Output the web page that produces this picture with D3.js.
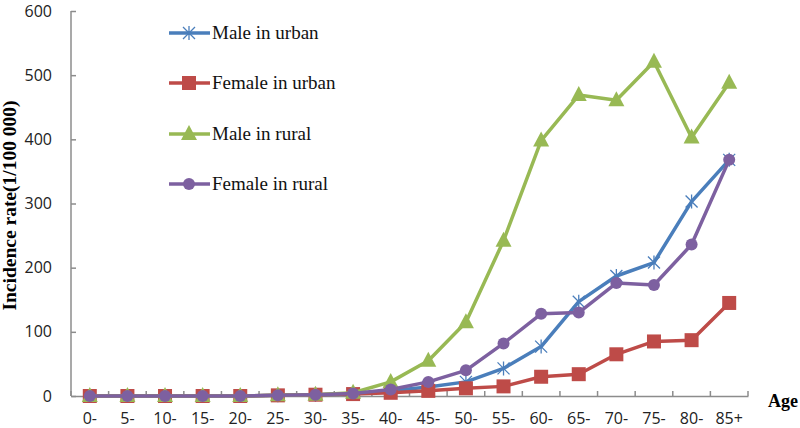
<!DOCTYPE html>
<html>
<head>
<meta charset="utf-8">
<script src="https://cdn.jsdelivr.net/npm/d3@7"></script>
<style>
  body { margin: 0; background: #fff; }
  svg { display: block; }
</style>
</head>
<body>
<div id="vis"></div>
<script>
// data
const AGES = ["0-", "5-", "10-", "15-", "20-", "25-", "30-", "35-", "40-", "45-",
              "50-", "55-", "60-", "65-", "70-", "75-", "80-", "85+"];
const MALE_URBAN   = [0, 0, 0, 0, 0, 1, 2, 3, 8, 14, 22, 43, 77, 147, 187, 208, 303, 368];
const FEMALE_URBAN = [0, 0, 0, 0, 0, 1, 2, 3, 5, 8, 12, 15, 30, 34, 65, 85, 87, 145];
const MALE_RURAL   = [0, 0, 0, 0, 0, 1, 2, 5, 22, 55, 115, 242, 398, 469, 461, 521, 403, 488];
const FEMALE_RURAL = [0, 0, 0, 0, 0, 1, 2, 4, 10, 22, 40, 82, 128, 130, 176, 173, 236, 368];
const Y_TICKS = [0, 100, 200, 300, 400, 500, 600];

const SERIES = [
  {name: "Male in urban",   values: MALE_URBAN,   color: "#4a7ebb", marker: "star"},
  {name: "Female in urban", values: FEMALE_URBAN, color: "#be4b48", marker: "square"},
  {name: "Male in rural",   values: MALE_RURAL,   color: "#98b954", marker: "triangle"},
  {name: "Female in rural", values: FEMALE_RURAL, color: "#7d60a0", marker: "circle"}
];

const FRAME_WIDTH = 800;
const FRAME_HEIGHT = 428;
const MARGINS = {left: 71, right: 52, top: 11, bottom: 32};

const FRAME = d3.select("#vis")
  .append("svg")
    .attr("width", FRAME_WIDTH)
    .attr("height", FRAME_HEIGHT);

const X_SCALE = d3.scaleBand()
  .domain(AGES)
  .range([MARGINS.left, FRAME_WIDTH - MARGINS.right]);

const Y_SCALE = d3.scaleLinear()
  .domain([0, 600])
  .range([FRAME_HEIGHT - MARGINS.bottom, MARGINS.top]);

const AXIS_COLOR = "#8c8c8c";
const TICK_FONT = "'Open Sans', sans-serif";
const SERIF = "'Liberation Serif', 'Times New Roman', serif";

// y axis, ticks point into the plot
const yAxis = FRAME.append("g")
  .attr("transform", "translate(" + MARGINS.left + ",0)")
  .call(d3.axisLeft(Y_SCALE).tickValues(Y_TICKS).tickSize(-5).tickPadding(19));
yAxis.select(".domain").attr("stroke", AXIS_COLOR).attr("stroke-width", 1.5)
  .attr("d", "M0," + Y_SCALE(600) + "V" + Y_SCALE(0));
yAxis.selectAll(".tick line").attr("stroke", AXIS_COLOR).attr("stroke-width", 1.5);
yAxis.selectAll(".tick text")
  .attr("font-family", TICK_FONT)
  .attr("font-size", "16px")
  .attr("fill", "#222");

// x axis: ticks on band boundaries, pointing up
const xAxis = FRAME.append("g")
  .attr("transform", "translate(0," + Y_SCALE(0) + ")")
  .call(d3.axisBottom(X_SCALE).tickSize(0).tickPadding(17));
xAxis.select(".domain").attr("stroke", AXIS_COLOR).attr("stroke-width", 1.5);
xAxis.selectAll(".tick text")
  .attr("font-family", TICK_FONT)
  .attr("font-size", "16px")
  .attr("fill", "#222");
const bounds = AGES.map((a) => X_SCALE(a)).concat([X_SCALE.range()[1]]);
xAxis.selectAll(".bound")
  .data(bounds)
  .enter()
  .append("line")
    .attr("x1", (d) => d).attr("x2", (d) => d)
    .attr("y1", 0).attr("y2", -5)
    .attr("stroke", AXIS_COLOR).attr("stroke-width", 1.5);

// axis titles
FRAME.append("text")
  .attr("transform", "translate(16," + ((MARGINS.top + Y_SCALE(0)) / 2 + 2) + ") rotate(-90)")
  .attr("text-anchor", "middle")
  .attr("font-family", SERIF)
  .attr("font-weight", "bold")
  .attr("font-size", "19.5px")
  .text("Incidence rate(1/100 000)");

FRAME.append("text")
  .attr("x", 768).attr("y", 407)
  .attr("font-family", SERIF)
  .attr("font-weight", "bold")
  .attr("font-size", "18px")
  .text("Age");

// marker drawing
function drawMarker(g, type, color) {
  if (type === "star") {
    const r = 6;
    g.append("path")
      .attr("d", "M" + (-r) + "," + (-r) + "L" + r + "," + r +
                 "M" + (-r) + "," + r + "L" + r + "," + (-r) +
                 "M0," + (-r - 1) + "L0," + (r + 1))
      .attr("stroke", color).attr("stroke-width", 1.3).attr("fill", "none");
  } else if (type === "square") {
    g.append("rect")
      .attr("x", -7).attr("y", -7).attr("width", 14).attr("height", 14)
      .attr("fill", color);
  } else if (type === "triangle") {
    g.append("path")
      .attr("d", "M0,-9L8,6L-8,6Z")
      .attr("fill", color);
  } else {
    g.append("circle").attr("r", 6).attr("fill", color);
  }
}

const LINE = d3.line()
  .x((d, i) => X_SCALE(AGES[i]) + X_SCALE.bandwidth() / 2)
  .y((d) => Y_SCALE(d));

// series (draw in order so purple sits on top)
SERIES.forEach((s) => {
  const g = FRAME.append("g");
  g.append("path")
    .datum(s.values)
    .attr("d", LINE)
    .attr("fill", "none")
    .attr("stroke", s.color)
    .attr("stroke-width", 3.5)
    .attr("stroke-linejoin", "round");
  s.values.forEach((v, i) => {
    const m = g.append("g")
      .attr("transform", "translate(" + (X_SCALE(AGES[i]) + X_SCALE.bandwidth() / 2) +
            "," + Y_SCALE(v) + ")");
    drawMarker(m, s.marker, s.color);
  });
});

// legend
const LEGEND_Y = [33, 83, 134, 184];
SERIES.forEach((s, i) => {
  const g = FRAME.append("g").attr("transform", "translate(169," + LEGEND_Y[i] + ")");
  g.append("line")
    .attr("x1", 0).attr("x2", 41).attr("y1", 0).attr("y2", 0)
    .attr("stroke", s.color).attr("stroke-width", 3.5);
  const m = g.append("g").attr("transform", "translate(20,0)");
  drawMarker(m, s.marker, s.color);
  g.append("text")
    .attr("x", 43).attr("y", 6)
    .attr("font-family", SERIF)
    .attr("font-size", "19px")
    .attr("fill", "#111")
    .text(s.name);
});
</script>
</body>
</html>
